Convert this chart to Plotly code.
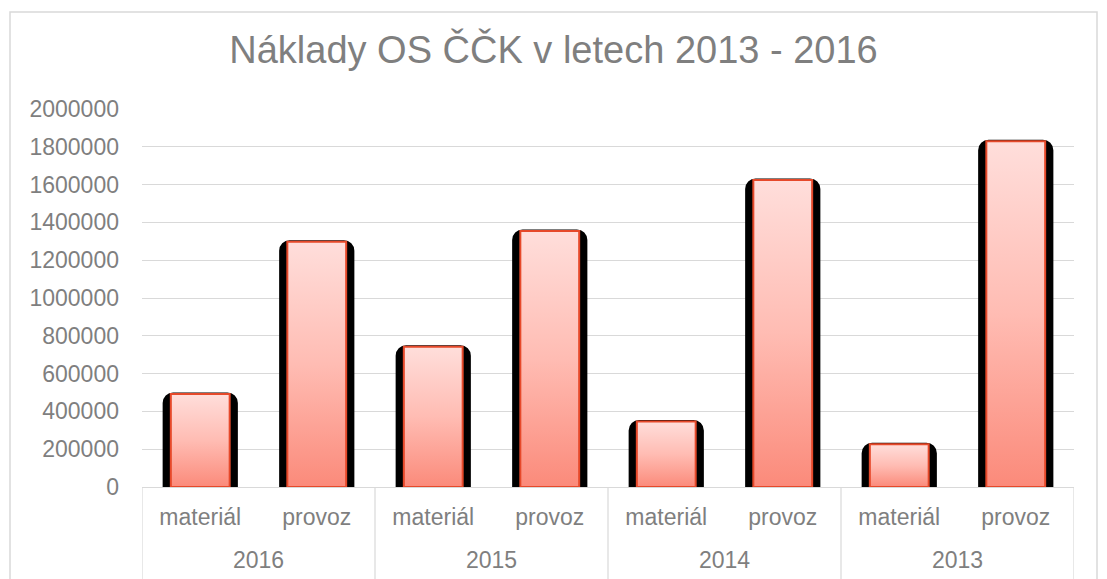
import plotly.graph_objects as go

# ---- data ----
years = ["2016", "2015", "2014", "2013"]
kinds = ["materiál", "provoz"]
material = [492000, 742000, 347000, 226000]
provoz = [1298000, 1355000, 1625000, 1830000]

labels = []
values = []
for i, y in enumerate(years):
    labels += kinds
    values += [material[i], provoz[i]]
xpos = list(range(len(values)))

TEXT = "#7f7f7f"
GRID = "#d9d9d9"
FONT = "Liberation Sans, Arial, sans-serif"

fig = go.Figure()
# black shadow bars
fig.add_trace(go.Bar(
    x=xpos, y=values, width=0.62,
    marker=dict(color="black", line=dict(color="black", width=3), cornerradius=9),
    hoverinfo="skip", showlegend=False,
))
# main bars
fig.add_trace(go.Bar(
    x=xpos, y=values, width=0.505,
    marker=dict(color="#fdb3aa", line=dict(color="#e6492a", width=2)),
    showlegend=False,
))

W, H = 1107, 579
L, R, T, B = 142, 33, 109, 92
pw, ph = W - L - R, H - T - B

n_groups = len(years)
per = len(kinds)
shapes = [dict(type="rect", xref="paper", yref="paper",
               x0=(10 - L) / pw, x1=(1097 - L) / pw,
               y0=-(B + 20) / ph, y1=1 + (T - 12) / ph,
               line=dict(color=GRID, width=1.5), fillcolor="rgba(0,0,0,0)", layer="below")]
for g in range(n_groups + 1):
    xd = g * per - 0.5
    shapes.append(dict(type="line", xref="x", yref="paper", x0=xd, x1=xd,
                       y0=0, y1=-(B + 20) / ph, line=dict(color=GRID, width=1.2)))

annotations = []
for g, yr in enumerate(years):
    annotations.append(dict(text=yr, xref="x", yref="paper", x=g * per + (per - 1) / 2,
                            y=-73 / ph, xanchor="center", yanchor="middle", showarrow=False,
                            font=dict(size=23, color=TEXT, family=FONT)))

fig.update_layout(
    width=W, height=H,
    margin=dict(l=L, r=R, t=T, b=B),
    paper_bgcolor="white", plot_bgcolor="white",
    barmode="overlay",
    font=dict(family=FONT, size=23, color=TEXT),
    title=dict(text="Náklady OS ČČK v letech 2013 - 2016", x=0.5, xref="container",
               xanchor="center", y=1 - 50 / H, yanchor="middle", yref="container",
               font=dict(size=38, color=TEXT, family=FONT)),
    xaxis=dict(range=[-0.5, len(values) - 0.5], tickmode="array", tickvals=xpos, ticktext=labels,
               showline=True, linecolor=GRID, linewidth=1.2, ticks="", ticklabelstandoff=9,
               tickfont=dict(size=23, color=TEXT), showgrid=False, zeroline=False),
    yaxis=dict(range=[0, 2000000], dtick=200000, tickformat="d", showgrid=True,
               gridcolor=GRID, gridwidth=1, zeroline=False, showline=False,
               ticks="", ticklabelstandoff=22, tickfont=dict(size=23, color=TEXT)),
    shapes=shapes,
    annotations=annotations,
)

post = """
document.body.style.margin = '0';
document.body.style.overflow = 'hidden';
var gd = document.getElementById('{plot_id}');
function applyGrad(){
  var svg = gd.querySelector('svg.main-svg');
  if(!svg) return;
  var ns = 'http://www.w3.org/2000/svg';
  if(!document.getElementById('barGradRef')){
    var defs = svg.querySelector('defs');
    if(!defs){ defs = document.createElementNS(ns,'defs'); svg.insertBefore(defs, svg.firstChild); }
    var lg = document.createElementNS(ns,'linearGradient');
    lg.setAttribute('id','barGradRef');
    lg.setAttribute('x1','0'); lg.setAttribute('y1','0');
    lg.setAttribute('x2','0'); lg.setAttribute('y2','1');
    var stops = [['0','#ffdedb'],['0.5','#ffbcb3'],['1','#fb8a7a']];
    stops.forEach(function(s){
      var st = document.createElementNS(ns,'stop');
      st.setAttribute('offset', s[0]); st.setAttribute('stop-color', s[1]);
      lg.appendChild(st);
    });
    defs.appendChild(lg);
    var f = document.createElementNS(ns,'filter');
    f.setAttribute('id','shadowBlurRef');
    f.setAttribute('x','-20%'); f.setAttribute('y','-20%');
    f.setAttribute('width','140%'); f.setAttribute('height','140%');
    var gb = document.createElementNS(ns,'feGaussianBlur');
    gb.setAttribute('stdDeviation','0.6');
    f.appendChild(gb);
    defs.appendChild(f);
  }
  var traces = gd.querySelectorAll('.barlayer .trace');
  if(traces.length < 2) return;
  traces[traces.length-1].querySelectorAll('.point path').forEach(function(p){
    p.style.fill = 'url(#barGradRef)';
  });
  traces[0].querySelectorAll('.point path').forEach(function(p){
    p.setAttribute('filter', 'url(#shadowBlurRef)');
  });
}
applyGrad();
gd.on('plotly_afterplot', applyGrad);
"""

fig.write_html("out.html", post_script=post, config={"displayModeBar": False})
